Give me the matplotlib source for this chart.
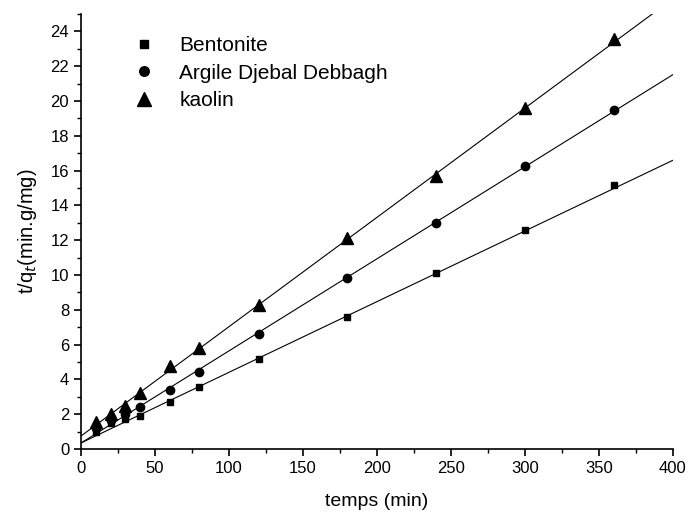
import numpy as np
import matplotlib
matplotlib.use("Agg")
import matplotlib.pyplot as plt
from matplotlib.ticker import MultipleLocator

plt.rcParams['font.family'] = ['Liberation Sans', 'DejaVu Sans']

# contact time (min)
temps = [10, 20, 30, 40, 60, 80, 120, 180, 240, 300, 360]

# t/qt for each adsorbent
bentonite = [1.0, 1.5, 1.75, 1.9, 2.7, 3.55, 5.15, 7.6, 10.1, 12.6, 15.15]
argile = [1.2, 1.65, 2.0, 2.4, 3.4, 4.45, 6.6, 9.8, 13.0, 16.25, 19.5]
kaolin = [1.55, 2.0, 2.45, 3.25, 4.8, 5.8, 8.25, 12.15, 15.7, 19.6, 23.55]

# pseudo-second-order linear fits (slope, intercept)
fit_bentonite = (0.0406, 0.35)
fit_argile = (0.0529, 0.35)
fit_kaolin = (0.0628, 0.75)

fig = plt.figure(figsize=(6.88, 5.15), dpi=100)
ax = fig.add_axes([0.1177, 0.128, 0.8603, 0.845])

series = [
    (bentonite, fit_bentonite, 's', 5, 'Bentonite'),
    (argile, fit_argile, 'o', 6, 'Argile Djebal Debbagh'),
    (kaolin, fit_kaolin, '^', 8.5, 'kaolin'),
]

xfit = np.linspace(0, 400, 200)
for y, (a, b), m, ms, lab in series:
    ax.plot(temps, y, linestyle='none', marker=m, markersize=ms,
            color='black', label=lab)
    ax.plot(xfit, a * xfit + b, color='black', linewidth=0.8)

ax.set_xlim(0, 400)
ax.set_ylim(0, 25)
ax.xaxis.set_major_locator(MultipleLocator(50))
ax.xaxis.set_minor_locator(MultipleLocator(25))
ax.yaxis.set_major_locator(MultipleLocator(2))
ax.yaxis.set_minor_locator(MultipleLocator(1))

for s in ['top', 'right']:
    ax.spines[s].set_visible(False)
for s in ['left', 'bottom']:
    ax.spines[s].set_linewidth(1.2)

ax.tick_params(which='major', direction='out', length=5, width=1.2,
               labelsize=12)
ax.tick_params(which='minor', direction='out', length=3, width=1.0)

ax.set_xlabel('temps (min)', fontsize=14, labelpad=12)
ax.set_ylabel('t/q$_t$(min.g/mg)', fontsize=14.5, labelpad=8)

ax.legend(loc='upper left', bbox_to_anchor=(0.05, 0.992), frameon=False,
          fontsize=15, handletextpad=1.0, labelspacing=0.41,
          handlelength=1.4, markerscale=1.15)

fig.savefig('out.png', dpi=100)
